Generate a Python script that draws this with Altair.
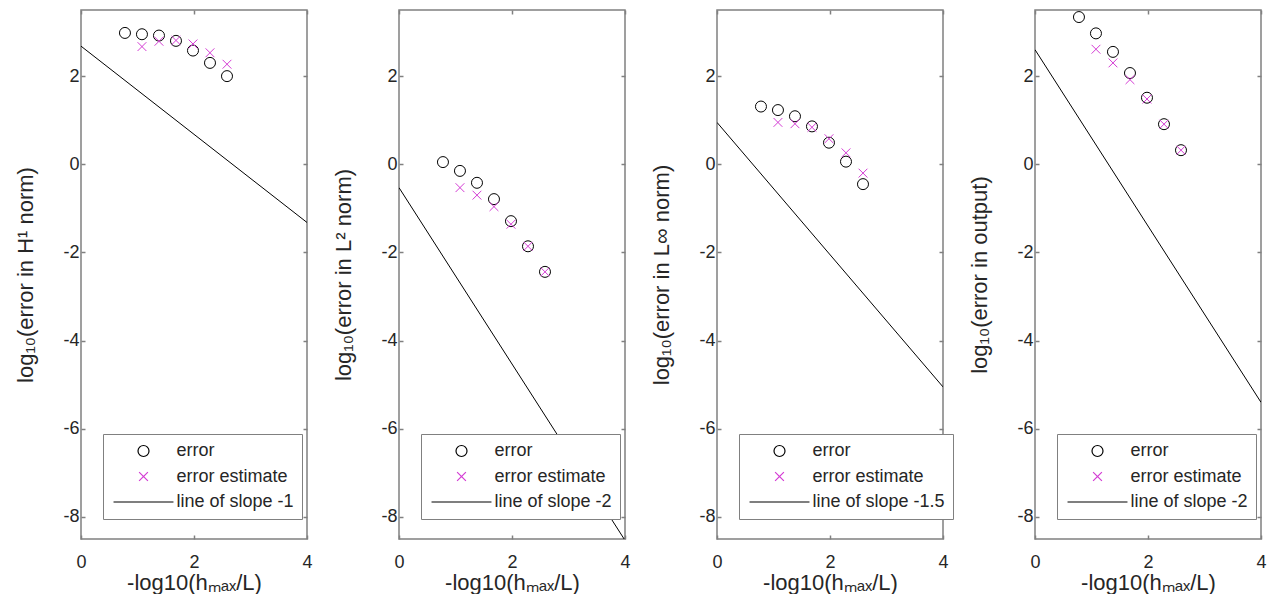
import altair as alt
import pandas as pd

# x positions: -log10(h_max/L)
x_vals = [0.778, 1.079, 1.380, 1.681, 1.982, 2.283, 2.584]

# panel 1: H1 norm
h1_err = [2.98, 2.95, 2.92, 2.80, 2.58, 2.30, 2.00]
h1_est = [2.67, 2.79, 2.81, 2.73, 2.53, 2.27]
# panel 2: L2 norm
l2_err = [0.05, -0.15, -0.42, -0.79, -1.29, -1.86, -2.44]
l2_est = [-0.53, -0.70, -0.96, -1.36, -1.86, -2.44]
# panel 3: Linf norm
linf_err = [1.31, 1.23, 1.09, 0.86, 0.49, 0.06, -0.45]
linf_est = [0.95, 0.92, 0.84, 0.58, 0.26, -0.20]
# panel 4: output
out_err = [3.34, 2.97, 2.55, 2.07, 1.51, 0.91, 0.32]
out_est = [2.61, 2.30, 1.92, 1.48, 0.91, 0.32]

# reference slope lines (end points at x = 0 and x = 4)
line_x = [0, 4]
h1_line = [2.68, -1.32]
l2_line = [-0.53, -8.53]
linf_line = [0.95, -5.05]
out_line = [2.60, -5.40]

y_titles = [
    "log\u2081\u2080(error in H\u00b9 norm)",
    "log\u2081\u2080(error in L\u00b2 norm)",
    "log\u2081\u2080(error in L\u221e norm)",
    "log\u2081\u2080(error in output)",
]
line_labels = ["line of slope -1", "line of slope -2", "line of slope -1.5", "line of slope -2"]
x_title = "-log10(h\u2098\u2090\u2093/L)"
x_ticks = [0, 2, 4]
y_ticks = [-8, -6, -4, -2, 0, 2]

FONT = "Liberation Sans"
TXT = "#262626"
FRAME = "#808080"
MAGENTA = "#d43cd4"

CROSS = "M-0.8,-0.8L0.8,0.8M-0.8,0.8L0.8,-0.8"
LINE_SYM = "M-5.45,0L5.45,0"


def panel(err, est, line_y, ytitle, line_label):
    rows = []
    for xv, yv in zip(x_vals, err):
        rows.append({"x": xv, "y": yv, "series": "error"})
    for xv, yv in zip(x_vals[1:], est):
        rows.append({"x": xv, "y": yv, "series": "error estimate"})
    pts = pd.DataFrame(rows)
    ldf = pd.DataFrame({"x": line_x, "y": line_y})

    xs = alt.Scale(domain=[0, 4], nice=False, zero=False)
    ys = alt.Scale(domain=[-8.5, 3.5], nice=False, zero=False)

    bottom_axis = alt.Axis(orient="bottom", values=x_ticks, offset=-4, tickSize=4,
                           labelPadding=14, labelFlush=False, labelOverlap=False,
                           labelExpr="'' + datum.value", title=x_title,
                           titlePadding=1)
    left_axis = alt.Axis(orient="left", values=y_ticks, offset=-4, tickSize=4,
                         labelPadding=2, labelOverlap=False, labelFlush=False,
                         labelExpr="'' + datum.value", title=ytitle, titlePadding=25)
    top_axis = alt.Axis(orient="top", values=x_ticks, offset=-4, tickSize=4,
                        labels=False, title=None)
    right_axis = alt.Axis(orient="right", values=y_ticks, offset=-4, tickSize=4,
                          labels=False, title=None)

    line = alt.Chart(ldf).mark_line(color="black", strokeWidth=1, clip=True).encode(
        x=alt.X("x:Q", scale=xs, axis=bottom_axis),
        y=alt.Y("y:Q", scale=ys, axis=left_axis),
    )

    domain = ["error", "error estimate", line_label]
    leg = alt.Legend(orient="none", legendX=22, legendY=424, title=None,
                     padding=8, strokeColor=FRAME, fillColor="white",
                     labelFontSize=18, labelFont=FONT, labelColor=TXT,
                     symbolSize=121, symbolStrokeWidth=1.2, symbolOffset=23.5,
                     symbolFillColor="transparent",
                     labelOffset=24, rowPadding=7.5, zindex=1, cornerRadius=0)
    points = alt.Chart(pts).mark_point(filled=False, size=121, strokeWidth=1, opacity=1).encode(
        x=alt.X("x:Q", scale=xs, axis=top_axis),
        y=alt.Y("y:Q", scale=ys, axis=right_axis),
        shape=alt.Shape("series:N", scale=alt.Scale(domain=domain, range=["circle", CROSS, LINE_SYM]), legend=leg),
        color=alt.Color("series:N", scale=alt.Scale(domain=domain, range=["black", MAGENTA, "black"]), legend=leg),
    )
    return alt.layer(line, points).resolve_axis(x="independent", y="independent").properties(
        width=226, height=529)


panels = [
    panel(h1_err, h1_est, h1_line, y_titles[0], line_labels[0]),
    panel(l2_err, l2_est, l2_line, y_titles[1], line_labels[1]),
    panel(linf_err, linf_est, linf_line, y_titles[2], line_labels[2]),
    panel(out_err, out_est, out_line, y_titles[3], line_labels[3]),
]

chart = alt.hconcat(*panels, spacing=92, bounds="flush").resolve_scale(
    color="independent", shape="independent"
).resolve_legend(color="independent", shape="independent").properties(
    padding={"left": 14, "top": 8, "right": 0, "bottom": 0}
).configure_view(stroke=FRAME, strokeWidth=1.5).configure_axis(
    labelFont=FONT, titleFont=FONT, labelColor=TXT, titleColor=TXT,
    labelFontSize=18, titleFontSize=22, titleFontWeight="normal",
    grid=False, domain=False, tickColor=FRAME, tickWidth=1.5,
)

chart.save("out.html", embed_options={"renderer": "svg", "actions": False})
